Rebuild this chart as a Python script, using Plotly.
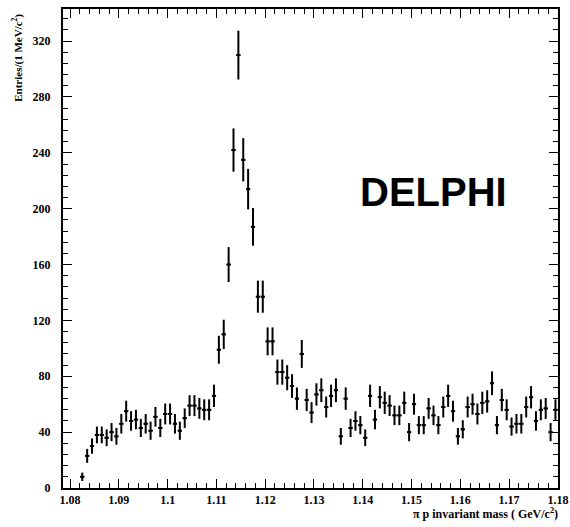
import plotly.graph_objects as go

# pi p invariant mass bin centres (GeV/c^2), 1 MeV bins
mass = [1.0825, 1.0835, 1.0845, 1.0855, 1.0865, 1.0875, 1.0885, 1.0895, 1.0905, 1.0915,
        1.0925, 1.0935, 1.0945, 1.0955, 1.0965, 1.0975, 1.0985, 1.0995, 1.1005, 1.1015,
        1.1025, 1.1035, 1.1045, 1.1055, 1.1065, 1.1075, 1.1085, 1.1095, 1.1105, 1.1115,
        1.1125, 1.1135, 1.1145, 1.1155, 1.1165, 1.1175, 1.1185, 1.1195, 1.1205, 1.1215,
        1.1225, 1.1235, 1.1245, 1.1255, 1.1265, 1.1275, 1.1285, 1.1295, 1.1305, 1.1315,
        1.1325, 1.1335, 1.1345, 1.1355, 1.1365, 1.1375, 1.1385, 1.1395, 1.1405, 1.1415,
        1.1425, 1.1435, 1.1445, 1.1455, 1.1465, 1.1475, 1.1485, 1.1495, 1.1505, 1.1515,
        1.1525, 1.1535, 1.1545, 1.1555, 1.1565, 1.1575, 1.1585, 1.1595, 1.1605, 1.1615,
        1.1625, 1.1635, 1.1645, 1.1655, 1.1665, 1.1675, 1.1685, 1.1695, 1.1705, 1.1715,
        1.1725, 1.1735, 1.1745, 1.1755, 1.1765, 1.1775, 1.1785, 1.1795]

entries = [8, 23, 30, 38, 38, 36, 40, 37, 46, 55,
           48, 49, 43, 46, 41, 51, 43, 53, 53, 46,
           41, 50, 59, 59, 57, 56, 56, 66, 99, 110,
           160, 242, 310, 235, 214, 187, 137, 137, 105, 105,
           83, 83, 79, 73, 64, 96, 63, 54, 67, 70,
           58, 66, 70, 37, 64, 43, 48, 45, 36, 66,
           49, 65, 61, 59, 52, 52, 61, 40, 60, 45,
           45, 57, 52, 45, 58, 66, 55, 37, 42, 58,
           60, 53, 61, 62, 75, 45, 63, 56, 44, 46,
           46, 58, 65, 48, 56, 57, 40, 56]

errors = [3, 5, 5.5, 6, 6, 6, 6.5, 6, 7, 7.5,
          7, 7, 6.5, 7, 6.5, 7, 6.5, 7.5, 7.5, 7,
          6.5, 7, 7.5, 7.5, 7.5, 7.5, 7.5, 8, 10, 10.5,
          12.5, 15.5, 17.5, 15.5, 14.5, 13.5, 11.5, 11.5, 10, 10,
          9, 9, 9, 8.5, 8, 10, 8, 7.5, 8, 8.5,
          7.5, 8, 8.5, 6, 8, 6.5, 7, 6.5, 6, 8,
          7, 8, 8, 7.5, 7, 7, 8, 6.5, 7.5, 6.5,
          6.5, 7.5, 7, 6.5, 7.5, 8, 7.5, 6, 6.5, 7.5,
          7.5, 7.5, 8, 8, 8.5, 6.5, 8, 7.5, 6.5, 7,
          7, 7.5, 8, 7, 7.5, 7.5, 6.5, 7.5]

x_ticks = [1.08, 1.09, 1.10, 1.11, 1.12, 1.13, 1.14, 1.15, 1.16, 1.17, 1.18]
x_ticklabels = ["1.08", "1.09", "1.1", "1.11", "1.12", "1.13", "1.14", "1.15", "1.16", "1.17", "1.18"]
y_ticks = [0, 40, 80, 120, 160, 200, 240, 280, 320]

serif = "Liberation Serif"

fig = go.Figure()
fig.add_trace(go.Scatter(
    x=mass, y=entries, mode="markers",
    marker=dict(color="black", size=3, symbol="line-ew", line=dict(width=2, color="black")),
    error_y=dict(type="data", array=errors, color="black", thickness=2, width=0),
    error_x=dict(type="constant", value=0.0004, color="black", thickness=1.5, width=0),
    showlegend=False, hoverinfo="skip",
))

axis_common = dict(
    showgrid=False, zeroline=False, showline=True, linecolor="black", linewidth=2,
    mirror="allticks", ticks="inside", tickcolor="black", tickwidth=1.2,
    tickfont=dict(family=serif, size=12, color="black", weight="bold"),
)

fig.update_xaxes(
    range=[1.07855, 1.18002], tickvals=x_ticks, ticktext=x_ticklabels, ticklen=9,
    minor=dict(dtick=0.002, tick0=1.08, ticks="inside", ticklen=5, tickcolor="black", tickwidth=1),
    ticklabelstandoff=0, automargin=False,
    **axis_common,
)
fig.update_yaxes(
    range=[0, 343], tickvals=y_ticks, ticklen=9,
    minor=dict(dtick=8, tick0=0, ticks="inside", ticklen=5, tickcolor="black", tickwidth=1),
    ticklabelstandoff=8, automargin=False,
    **axis_common,
)

fig.add_annotation(
    text="Entries/(1 MeV/c<sup>2</sup>)", xref="paper", yref="paper",
    x=-0.091, y=0.898, xanchor="center", yanchor="middle", textangle=-90,
    showarrow=False, font=dict(family=serif, size=11, color="black", weight="bold"),
)
fig.add_annotation(
    text="π p invariant mass ( GeV/c<sup>2</sup>)", xref="paper", yref="paper",
    x=1.004, y=-0.054, xanchor="right", yanchor="middle",
    showarrow=False, font=dict(family=serif, size=12, color="black", weight="bold"),
)
fig.add_annotation(
    text="DELPHI", xref="paper", yref="paper",
    x=0.7475, y=0.618, xanchor="center", yanchor="middle",
    showarrow=False, font=dict(family="Liberation Sans", size=40, color="black", weight="bold"),
)

fig.update_layout(
    width=570, height=527, autosize=False,
    margin=dict(l=63, r=12, t=9, b=39, autoexpand=False),
    paper_bgcolor="white", plot_bgcolor="white",
)

fig.write_html(
    "out.html",
    config={"displayModeBar": False, "responsive": False},
    post_script=(
        "document.body.style.margin='0';"
        "document.body.style.overflow='hidden';"
        "Plotly.relayout(document.getElementById('{plot_id}'), {width: 570, height: 527});"
    ),
)
